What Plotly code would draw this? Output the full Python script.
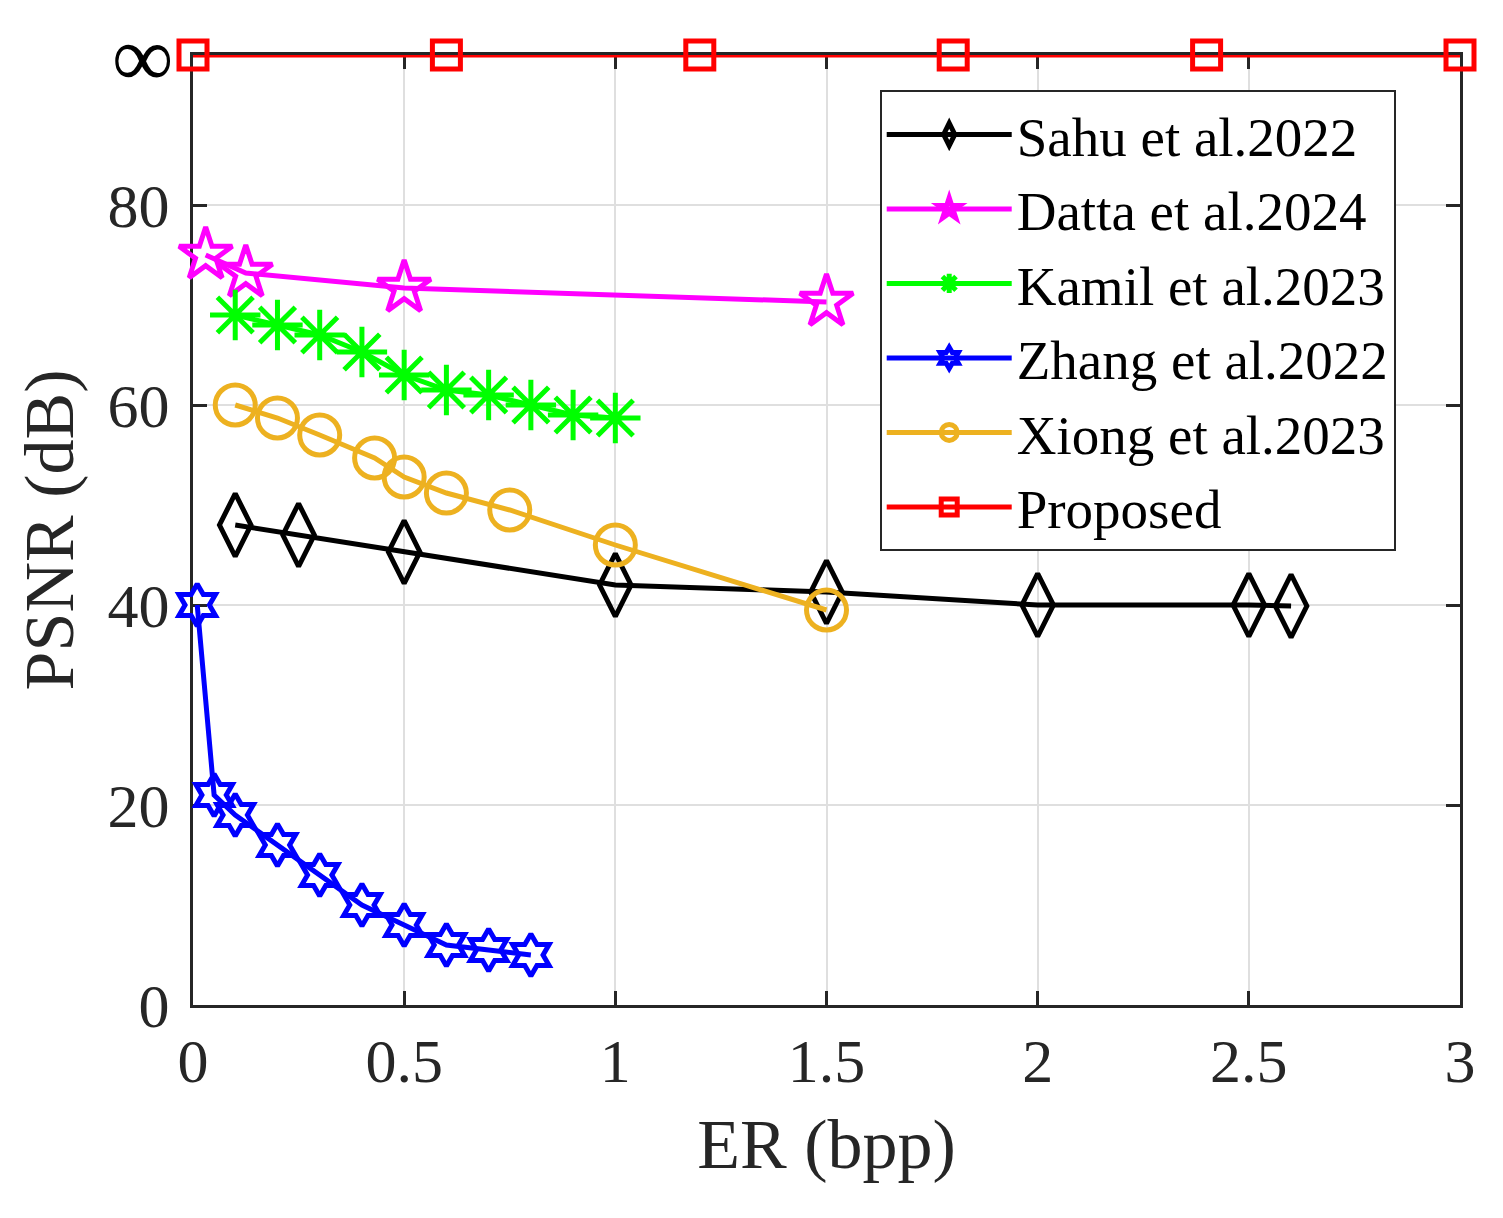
import plotly.graph_objects as go

# Embedding rate (bpp) and PSNR (dB) for each method
sahu_er = [0.1, 0.25, 0.5, 1.0, 1.5, 2.0, 2.5, 2.6]
sahu_psnr = [48, 47, 45.3, 42, 41.3, 40, 40, 39.9]

datta_er = [0.03, 0.125, 0.5, 1.5]
datta_psnr = [75, 73.2, 71.7, 70.3]

kamil_er = [0.1, 0.2, 0.3, 0.4, 0.5, 0.6, 0.7, 0.8, 0.9, 1.0]
kamil_psnr = [69, 68, 67, 65.3, 63, 61.5, 61, 60, 59, 58.7]

zhang_er = [0.01, 0.05, 0.1, 0.2, 0.3, 0.4, 0.5, 0.6, 0.7, 0.8]
zhang_psnr = [40, 21, 19, 16, 13, 10, 8, 6, 5.5, 5]

xiong_er = [0.1, 0.2, 0.3, 0.43, 0.5, 0.6, 0.75, 1.0, 1.5]
xiong_psnr = [60, 58.7, 57, 54.7, 52.8, 51.2, 49.5, 46, 39.5]

# proposed scheme is lossless -> plotted at the "infinity" level
INF = 95
proposed_er = [0, 0.6, 1.2, 1.8, 2.4, 3.0]
proposed_psnr = [INF] * len(proposed_er)

y_ticks = [0, 20, 40, 60, 80, INF]
y_labels = ["0", "20", "40", "60", "80", ""]
x_ticks = [0, 0.5, 1, 1.5, 2, 2.5, 3]
x_labels = ["0", "0.5", "1", "1.5", "2", "2.5", "3"]

FONT = "Liberation Serif, Times New Roman, serif"
AX = "#262626"

series = [
    ("Sahu et al.2022", sahu_er, sahu_psnr, "#000000", "diamond-tall-open", 45),
    ("Datta et al.2024", datta_er, datta_psnr, "#ff00ff", "star-open", 40),
    ("Kamil et al.2023", kamil_er, kamil_psnr, "#00ff00", "asterisk-open", 42),
    ("Zhang et al.2022", zhang_er, zhang_psnr, "#0000ff", "hexagram-open", 32),
    ("Xiong et al.2023", xiong_er, xiong_psnr, "#edb120", "circle-open", 40),
    ("Proposed", proposed_er, proposed_psnr, "#ff0000", "square-open", 28),
]

fig = go.Figure()
for name, xs, ys, color, symbol, size in series:
    fig.add_trace(go.Scatter(
        x=xs, y=ys, mode="lines+markers", name=name,
        line=dict(color=color, width=5),
        marker=dict(symbol=symbol, size=size, color=color, line=dict(color=color, width=5)),
        cliponaxis=False,
    ))

axis_common = dict(
    showline=True, linecolor=AX, linewidth=3, mirror="allticks",
    ticks="inside", ticklen=14, tickwidth=3, tickcolor=AX,
    showgrid=True, gridcolor="#dfdfdf", gridwidth=2,
    zeroline=False, layer="below traces",
    tickfont=dict(family=FONT, size=62, color=AX),
)

fig.update_xaxes(range=[0, 3], tickvals=x_ticks, ticktext=x_labels,
                 title=dict(text="ER (bpp)", font=dict(family=FONT, size=70, color=AX), standoff=25),
                 **axis_common)
fig.update_yaxes(range=[0, INF], tickvals=y_ticks, ticktext=y_labels, ticklabelstandoff=8,
                 title=dict(text="PSNR (dB)", font=dict(family=FONT, size=70, color=AX), standoff=12),
                 **axis_common)

# infinity label for the top tick (bigger glyph than the normal tick font)
fig.add_annotation(x=0, y=INF, xref="paper", yref="y", xanchor="right", yanchor="bottom",
                   xshift=-18, yshift=-52, text="∞", showarrow=False,
                   font=dict(family=FONT, size=86, color="black"))

# page body adds ~8px offset, so margins are shifted to compensate
fig.update_layout(
    width=1503, height=1218,
    margin=dict(l=185, r=51, t=47, b=221),
    paper_bgcolor="white", plot_bgcolor="white",
    font=dict(family=FONT, color="black"),
    legend=dict(
        x=0.542, y=0.963, xanchor="left", yanchor="top",
        bgcolor="white", bordercolor=AX, borderwidth=2,
        font=dict(family=FONT, size=55, color="black"),
        tracegroupgap=0, itemwidth=125,
    ),
    showlegend=True,
)

fig.write_html("out.html")
